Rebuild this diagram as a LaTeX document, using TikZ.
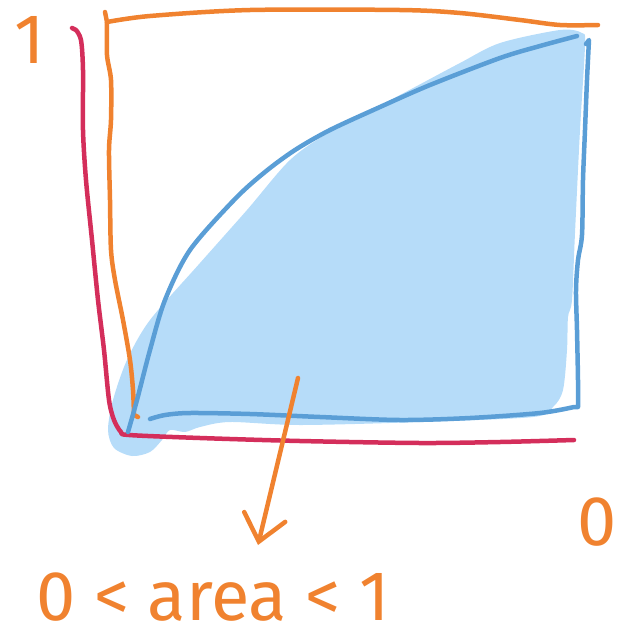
\documentclass[tikz,border=0pt]{standalone}
\usepackage{fontspec}
\setmainfont{Fira Sans}
\usetikzlibrary{arrows.meta}
\definecolor{skorange}{HTML}{F0822F}
\definecolor{skpink}{HTML}{D42E5B}
\definecolor{skblue}{HTML}{5A9ED6}
\definecolor{skfill}{HTML}{B6DCF9}

\begin{document}
\begin{tikzpicture}[x=0.025cm, y=-0.025cm,
   pen/.style={line width=3.2pt, line cap=round, line join=round},
   hand/.style={text=skorange, inner sep=0pt, font=\fontsize{50}{52}\selectfont},
   >={Straight Barb[length=18pt, width=30pt, line cap=round]}]
  \useasboundingbox (0,0) rectangle (617,640);
  % shaded area
  \fill[skfill] plot[smooth cycle, tension=0.5] coordinates {
    (582,33) (560,30) (500,43) (460,63) (400,95) (330,132) (290,160)
    (247,210) (200,263) (150,320) (127,360) (113,400) (108,430)
    (114,448) (132,456) (150,452) (162,440) (170,430) (185,432) (200,427)
    (230,422) (300,425) (420,422) (533,417) (553,407) (563,390)
    (567,350) (568,317) (572,300) (575,233) (580,130) (585,45)};
  % perfect curve
  \draw[pen, skorange] (105,12) -- (107,22)
    plot[smooth] coordinates {(107,22) (150,16) (250,10) (400,10) (460,13)
      (520,20) (560,25) (598,25)};
  \draw[pen, skorange] plot[smooth] coordinates {(107,22) (107,55) (111,80)
    (111,120) (109,150) (110,200) (111,250) (115,280) (123,320) (130,360)
    (133,390) (134,415)} -- (138,417);
  % worst curve
  \draw[pen, skpink] (72,28) -- (76,30)
    plot[smooth] coordinates {(76,30) (81,40) (83,70) (83,130) (86,180)
      (92,240) (98,300) (104,350) (109,400) (114,420) (121,432) (129,435)
      (200,438) (300,441) (420,443) (500,442) (574,440)};
  % real curve
  \draw[pen, skblue] plot[smooth] coordinates {(577,36) (540,46) (500,58)
    (430,85) (380,107) (330,130) (295,150) (265,172) (235,199) (190,250)
    (165,300) (150,350) (137,400) (128,432)};
  \draw[pen, skblue] plot[smooth] coordinates {(150,419) (165,415) (190,413)
    (250,414) (320,417) (400,420) (470,418) (540,413) (574,407)}
    -- (578,407)
    plot[smooth] coordinates {(578,407) (578,380) (577,330) (576,290)
      (578,260) (582,235) (583,180) (585,130) (587,80) (589,40)} -- (586,44);
  % labels
  \node[hand] (one) at (30,40) {1};
  \node[hand] (zero) at (597,522) {0};
  \node[hand, anchor=base west] (area) at (36,620) {0 < area < 1};
  \coordinate (tail) at (298,378);
  \coordinate (tip) at (258,545);
  \draw[pen, skorange, ->] (tail) -- (tip);
\end{tikzpicture}
\end{document}
